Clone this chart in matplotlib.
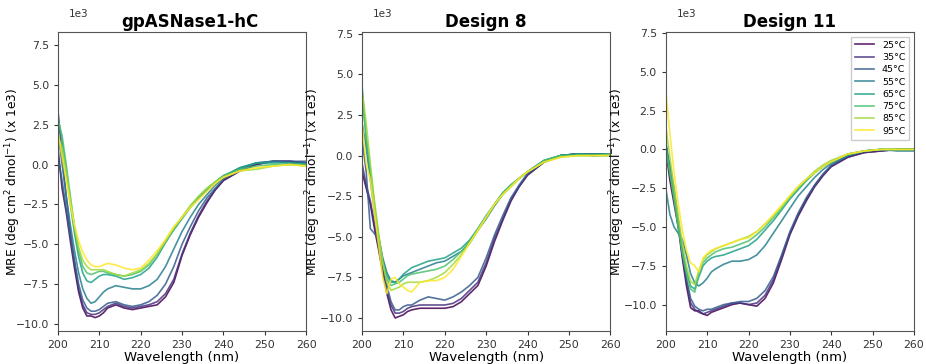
import numpy as np
import matplotlib
matplotlib.use("Agg")
import matplotlib.pyplot as plt

# Wavelength grid (nm)
wavelength = [200, 201, 202, 203, 204, 205, 206, 207, 208, 209, 210, 211, 212,
              214, 216, 218, 220, 222, 224, 226, 228, 230, 232, 234, 236, 238,
              240, 244, 248, 252, 256, 260]

temperatures = ["25°C", "35°C", "45°C", "55°C", "65°C", "75°C", "85°C", "95°C"]

# Mean residue ellipticity (x 1e3 deg cm^2 dmol^-1), one list per temperature
wt_25 = [1.0, -1.5, -3.0, -4.8, -6.5, -8.0, -9.0, -9.5, -9.5, -9.6, -9.5, -9.3, -9.0, -8.8, -9.0, -9.1, -9.0, -8.9, -8.8, -8.3, -7.4, -5.7, -4.4, -3.3, -2.4, -1.6, -1.0, -0.4, 0.0, 0.2, 0.2, 0.1]
wt_35 = [3.4, 0.5, -2.0, -4.2, -6.2, -7.8, -8.8, -9.3, -9.4, -9.4, -9.3, -9.1, -8.9, -8.7, -8.9, -9.0, -8.9, -8.8, -8.6, -8.1, -7.2, -5.6, -4.3, -3.2, -2.3, -1.6, -1.0, -0.4, 0.0, 0.2, 0.2, 0.1]
wt_45 = [0.5, -1.0, -2.8, -4.5, -6.0, -7.5, -8.5, -9.0, -9.2, -9.2, -9.1, -8.9, -8.7, -8.6, -8.8, -8.9, -8.8, -8.6, -8.2, -7.5, -6.4, -5.0, -3.9, -2.9, -2.1, -1.5, -0.9, -0.3, 0.1, 0.2, 0.2, 0.2]
wt_55 = [2.0, 0.0, -2.0, -3.8, -5.4, -6.8, -7.8, -8.4, -8.7, -8.6, -8.3, -8.0, -7.8, -7.6, -7.7, -7.8, -7.8, -7.6, -7.2, -6.4, -5.3, -4.2, -3.3, -2.5, -1.9, -1.3, -0.8, -0.2, 0.1, 0.2, 0.1, 0.1]
wt_65 = [3.0, 1.5, -0.5, -2.5, -4.3, -5.8, -6.8, -7.3, -7.4, -7.2, -7.0, -6.9, -6.9, -7.0, -7.2, -7.1, -6.9, -6.5, -5.8, -4.9, -4.1, -3.4, -2.7, -2.1, -1.6, -1.1, -0.7, -0.2, 0.1, 0.1, 0.1, 0.0]
wt_75 = [2.8, 1.8, 0.0, -2.0, -3.9, -5.4, -6.4, -6.8, -6.9, -6.8, -6.7, -6.7, -6.8, -6.9, -7.0, -6.9, -6.7, -6.3, -5.6, -4.8, -4.0, -3.3, -2.6, -2.0, -1.5, -1.1, -0.7, -0.3, -0.1, 0.0, 0.0, 0.0]
wt_85 = [1.8, 1.0, -0.5, -2.3, -3.9, -5.2, -6.0, -6.4, -6.6, -6.6, -6.6, -6.6, -6.7, -6.9, -7.0, -6.8, -6.6, -6.2, -5.6, -4.8, -4.0, -3.3, -2.6, -2.0, -1.5, -1.1, -0.8, -0.4, -0.3, -0.1, 0.0, -0.1]
wt_95 = [2.0, 0.5, -1.0, -2.5, -3.8, -4.8, -5.5, -6.0, -6.3, -6.4, -6.4, -6.3, -6.2, -6.3, -6.5, -6.6, -6.5, -6.0, -5.4, -4.7, -3.9, -3.3, -2.7, -2.2, -1.7, -1.2, -0.8, -0.4, -0.2, -0.1, 0.0, -0.1]

d8_25 = [-1.0, -2.0, -3.0, -4.5, -5.8, -7.2, -8.5, -9.5, -10.0, -9.9, -9.8, -9.6, -9.5, -9.4, -9.4, -9.4, -9.4, -9.3, -9.0, -8.5, -8.0, -6.8, -5.3, -4.0, -2.8, -1.9, -1.2, -0.4, 0.0, 0.1, 0.1, 0.1]
d8_35 = [-0.5, -1.8, -2.8, -4.2, -5.6, -7.0, -8.3, -9.2, -9.7, -9.7, -9.6, -9.4, -9.3, -9.2, -9.2, -9.2, -9.2, -9.1, -8.8, -8.3, -7.8, -6.6, -5.1, -3.9, -2.7, -1.9, -1.2, -0.4, 0.0, 0.1, 0.1, 0.1]
d8_45 = [1.0, -1.0, -4.5, -4.8, -5.2, -6.5, -8.0, -9.0, -9.5, -9.5, -9.3, -9.2, -9.2, -8.9, -8.7, -8.8, -8.9, -8.7, -8.4, -8.0, -7.5, -6.3, -4.9, -3.7, -2.6, -1.8, -1.1, -0.4, 0.0, 0.1, 0.0, 0.1]
d8_55 = [2.0, 0.5, -1.5, -3.5, -5.0, -6.3, -7.2, -7.7, -7.8, -7.6, -7.4, -7.3, -7.2, -7.0, -6.8, -6.6, -6.5, -6.2, -5.9, -5.4, -4.6, -3.9, -3.1, -2.4, -1.9, -1.4, -1.0, -0.3, 0.0, 0.1, 0.0, 0.0]
d8_65 = [4.3, 1.0, -1.0, -3.2, -5.0, -6.5, -7.4, -7.8, -7.8, -7.6, -7.3, -7.1, -6.9, -6.7, -6.5, -6.4, -6.3, -6.0, -5.7, -5.2, -4.5, -3.7, -3.0, -2.3, -1.8, -1.4, -1.0, -0.3, 0.0, 0.1, 0.1, 0.1]
d8_75 = [3.5, 1.2, -0.8, -3.0, -5.0, -6.6, -7.6, -8.0, -7.9, -7.8, -7.6, -7.4, -7.3, -7.2, -7.1, -7.0, -6.8, -6.4, -5.9, -5.3, -4.5, -3.8, -3.0, -2.3, -1.8, -1.4, -1.0, -0.3, 0.0, 0.0, 0.0, 0.1]
d8_85 = [4.0, 2.0, -0.5, -2.8, -4.8, -6.6, -7.8, -8.3, -8.2, -8.1, -7.9, -7.8, -7.8, -7.8, -7.7, -7.5, -7.2, -6.7, -6.1, -5.4, -4.6, -3.8, -3.0, -2.4, -1.9, -1.4, -1.0, -0.4, -0.1, 0.0, 0.0, 0.0]
d8_95 = [2.0, -0.5, -1.5, -3.5, -5.5, -7.5, -8.5, -7.6, -7.5, -7.9, -8.1, -8.3, -8.4, -7.8, -7.7, -7.7, -7.5, -7.0, -6.2, -5.4, -4.6, -3.8, -3.0, -2.4, -1.9, -1.4, -1.0, -0.4, -0.1, 0.0, 0.0, 0.0]

d11_25 = [0.0, -2.0, -3.5, -5.0, -7.0, -8.8, -10.2, -10.4, -10.4, -10.6, -10.7, -10.5, -10.4, -10.2, -10.0, -9.9, -10.0, -10.1, -9.6, -8.6, -7.1, -5.5, -4.3, -3.3, -2.4, -1.7, -1.1, -0.5, -0.2, -0.1, 0.0, 0.0]
d11_35 = [0.5, -1.5, -3.0, -4.8, -6.8, -8.5, -9.9, -10.3, -10.5, -10.6, -10.5, -10.4, -10.3, -10.1, -9.9, -9.9, -10.0, -9.9, -9.4, -8.4, -6.9, -5.4, -4.2, -3.2, -2.3, -1.6, -1.1, -0.5, -0.2, -0.1, 0.0, 0.0]
d11_45 = [0.3, -1.0, -2.5, -4.5, -6.5, -8.3, -9.6, -10.1, -10.3, -10.4, -10.3, -10.3, -10.2, -10.0, -9.9, -9.8, -9.8, -9.6, -9.1, -8.2, -6.8, -5.3, -4.1, -3.1, -2.3, -1.6, -1.0, -0.4, -0.1, 0.0, 0.0, 0.0]
d11_55 = [-2.5, -4.2, -5.0, -5.4, -5.8, -6.8, -8.0, -8.6, -8.8, -8.6, -8.3, -7.9, -7.7, -7.4, -7.2, -7.2, -7.1, -6.8, -6.2, -5.4, -4.6, -3.8, -3.0, -2.4, -1.8, -1.3, -0.9, -0.4, -0.1, 0.0, -0.1, -0.1]
d11_65 = [0.5, -1.5, -3.0, -4.8, -6.5, -7.8, -8.8, -9.0, -8.2, -7.5, -7.2, -7.0, -6.9, -6.8, -6.6, -6.4, -6.2, -5.8, -5.2, -4.6, -3.9, -3.2, -2.6, -2.0, -1.5, -1.1, -0.8, -0.3, -0.1, 0.0, 0.0, 0.0]
d11_75 = [0.0, -1.5, -3.2, -5.0, -6.7, -8.0, -9.0, -9.2, -8.0, -7.3, -7.0, -6.8, -6.6, -6.4, -6.3, -6.1, -5.9, -5.5, -5.0, -4.4, -3.8, -3.1, -2.5, -2.0, -1.5, -1.1, -0.8, -0.3, -0.1, 0.0, 0.0, 0.0]
d11_85 = [1.5, -0.5, -2.5, -4.3, -6.0, -7.5, -8.5, -8.7, -7.8, -7.1, -6.8, -6.6, -6.4, -6.2, -6.0, -5.8, -5.6, -5.3, -4.8, -4.3, -3.7, -3.0, -2.4, -1.9, -1.4, -1.0, -0.7, -0.3, -0.1, 0.0, 0.0, 0.0]
d11_95 = [3.8, 1.0, -1.5, -3.5, -5.2, -6.5, -7.3, -7.5, -7.9, -7.0, -6.7, -6.5, -6.4, -6.2, -6.0, -5.8, -5.7, -5.3, -4.8, -4.2, -3.6, -3.0, -2.4, -1.9, -1.5, -1.1, -0.8, -0.3, -0.1, 0.0, 0.0, 0.0]

titles = ["gpASNase1-hC", "Design 8", "Design 11"]
panels = [
    [wt_25, wt_35, wt_45, wt_55, wt_65, wt_75, wt_85, wt_95],
    [d8_25, d8_35, d8_45, d8_55, d8_65, d8_75, d8_85, d8_95],
    [d11_25, d11_35, d11_45, d11_55, d11_65, d11_75, d11_85, d11_95],
]
y_limits = [(-10440, 8300), (-10800, 7600), (-11700, 7560)]

colors = plt.cm.viridis(np.linspace(0, 1, len(temperatures)))

fig = plt.figure(figsize=(9.26, 3.64), dpi=100)
lefts = [0.0626, 0.391, 0.719]
ylabel_x = [-0.14, -0.157, -0.156]
title_x = [0.532, 0.5, 0.5]
x = np.array(wavelength)

for i, (title, series) in enumerate(zip(titles, panels)):
    ax = fig.add_axes([lefts[i], 0.0907, 0.268, 0.821])
    for label, vals, c in zip(temperatures, series, colors):
        ax.plot(x, np.array(vals) * 1000, color=c, lw=1.2, alpha=0.85, label=label)
    ax.set_xlim(200, 260)
    ax.set_ylim(*y_limits[i])
    ax.set_yticks(np.arange(-10000, 7501, 2500))
    ax.ticklabel_format(axis="y", style="sci", scilimits=(3, 3))
    ax.yaxis.get_offset_text().set_visible(False)
    ax.text(0.045, 1.044, "1e3", transform=ax.transAxes, fontsize=7.5,
            color="#333333", ha="left", va="bottom")
    ax.tick_params(labelsize=7.8, colors="#333333", length=3)
    for lab in ax.get_xticklabels() + ax.get_yticklabels():
        lab.set_color("#333333")
    ax.set_xlabel("Wavelength (nm)", fontsize=9.5, labelpad=1)
    ax.set_ylabel(r"MRE (deg cm$^2$ dmol$^{-1}$) (x 1e3)", fontsize=8.8)
    ax.yaxis.set_label_coords(ylabel_x[i], 0.5)
    ax.set_title(title, fontsize=12, fontweight="bold", pad=4, x=title_x[i])
    for s in ax.spines.values():
        s.set_color("#555555")
    if i == 2:
        ax.legend(loc="upper right", fontsize=6.8, frameon=True, handlelength=2.1,
                  labelspacing=0.35, borderpad=0.4, fancybox=False, framealpha=1)

fig.savefig("out.png", dpi=100)
